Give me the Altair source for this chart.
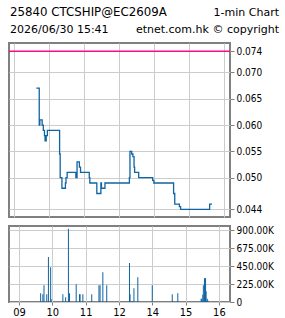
import altair as alt
import pandas as pd

# ---- data ----
# x = trading minute index from 09:00 (lunch 12:00-13:00 removed)
price_min = [38, 43, 44, 48, 50, 52, 53, 55, 57, 78, 79, 82, 88, 89, 91, 106, 108, 112, 114,
             129, 130, 142, 149, 150, 156, 198, 199, 202, 204, 206, 207, 214, 238, 240,
             274, 276, 284, 286, 336, 340]
price_val = [0.067, 0.060, 0.061, 0.060, 0.059, 0.058, 0.057, 0.058, 0.059, 0.0545, 0.050,
             0.048, 0.049, 0.050, 0.051, 0.050, 0.053, 0.052, 0.051, 0.050, 0.049, 0.047,
             0.049, 0.048, 0.049, 0.050, 0.055, 0.0545, 0.054, 0.052, 0.051, 0.050, 0.0495,
             0.049, 0.047, 0.045, 0.0445, 0.044, 0.045, 0.045]
vol_min = [39, 43, 45, 50, 53, 57, 58, 79, 84, 89, 91, 103, 109, 110, 115, 131, 144, 146,
           151, 158, 199, 200, 204, 207, 214, 240, 276, 286, 328, 329, 331, 332, 334, 335,
           336, 337, 339, 340]
vol_val = [109000, 96000, 209000, 96000, 561000, 435000, 33000, 96000, 59000, 915000, 109000,
           222000, 96000, 96000, 96000, 96000, 209000, 209000, 372000, 209000, 486000, 96000,
           13000, 172000, 310000, 209000, 96000, 109000, 42000, 42000, 92000, 209000, 297000,
           297000, 297000, 134000, 42000, 21000]
prev_close = [0.074]
x_ticks = [0, 60, 120, 180, 240, 300, 360]
x_labels = ["09", "10", "11", "12", "14", "15", "16"]
price_ticks = [0.044, 0.050, 0.055, 0.060, 0.065, 0.070, 0.074]
vol_ticks = [0, 225000, 450000, 675000, 900000]
header_left = ["25840 CTCSHIP@EC2609A", "2026/06/30 15:41"]
header_right = ["1-min Chart", "etnet.com.hk \u00a9 copyright"]

price_df = pd.DataFrame({"m": price_min, "p": price_val})
vol_df = pd.DataFrame({"m": vol_min, "v": vol_val})
pc_df = pd.DataFrame({"p": prev_close})

LINE = "#0f64a3"
GRID = dict(grid=True, gridColor="#cccccc", gridWidth=1)
xdom = [-9, 371]
label_expr = "[" + ",".join("'%s'" % s for s in x_labels) + "][indexof([" + \
    ",".join(str(t) for t in x_ticks) + "], datum.value)]"

x_scale = alt.Scale(domain=xdom, nice=False, zero=False)
x_axis_top = alt.Axis(values=x_ticks, labels=False, ticks=False, title=None, domain=False,
                      **GRID)
y_axis_top = alt.Axis(orient="right", values=price_ticks, format=".3f", title=None,
                      domain=False, tickSize=4, labelPadding=2, labelOverlap=False, **GRID)
y_scale_top = alt.Scale(domain=[0.04254, 0.07558], nice=False, zero=False)
X_T = alt.X("m:Q", scale=x_scale, axis=x_axis_top)
Y_T = alt.Y("p:Q", scale=y_scale_top, axis=y_axis_top)

line = alt.Chart(price_df).mark_line(interpolate="step-after", color=LINE,
                                     strokeWidth=1.3).encode(x=X_T, y=Y_T)
pc = alt.Chart(pc_df).mark_rule(color="#ff0a84", strokeWidth=1.5).encode(y=Y_T)


def htext(txt, xpos, ypos, align, size=11):
    return alt.Chart(pd.DataFrame({"t": [txt]})).mark_text(
        align=align, baseline="top", font="DejaVu Sans", fontSize=size, color="#000000"
    ).encode(text="t:N", x=alt.value(xpos), y=alt.value(ypos))


texts = (htext(header_left[0], 1, -36, "left", 11.8) + htext(header_left[1], 1, -19, "left") +
         htext(header_right[0], 270, -36, "right") + htext(header_right[1], 270, -19, "right"))

top = alt.layer(line, pc, texts).properties(width=221, height=174)

x_axis_bot = alt.Axis(values=x_ticks, labelExpr=label_expr, title=None, domain=False,
                      tickSize=3, labelPadding=1, labelFontSize=11, labelOverlap=False,
                      **GRID)
y_axis_bot = alt.Axis(orient="right", values=vol_ticks, title=None, domain=False, tickSize=4,
                      labelPadding=2, labelOverlap=False,
                      labelExpr="datum.value == 0 ? '0' : format(datum.value/1000, '.2f') + 'K'",
                      **GRID)
X_B = alt.X("m:Q", scale=x_scale, axis=x_axis_bot)
Y_B = alt.Y("v:Q", scale=alt.Scale(domain=[0, 950000], nice=False), axis=y_axis_bot)

bars = alt.Chart(vol_df).mark_bar(size=1, color=LINE).encode(x=X_B, y=Y_B)
bottom = bars.properties(width=221, height=76)

chart = alt.vconcat(top, bottom, spacing=6).properties(
    padding={"left": 7, "top": 6, "right": 2, "bottom": 2}, background="#ffffff"
).configure_view(stroke="#808080", strokeWidth=2).configure_axis(
    labelFont="DejaVu Sans Condensed", labelFontSize=10, labelColor="#000000",
    tickColor="#808080", tickWidth=1
)

chart.save("out.html", embed_options={"renderer": "svg", "actions": False})
